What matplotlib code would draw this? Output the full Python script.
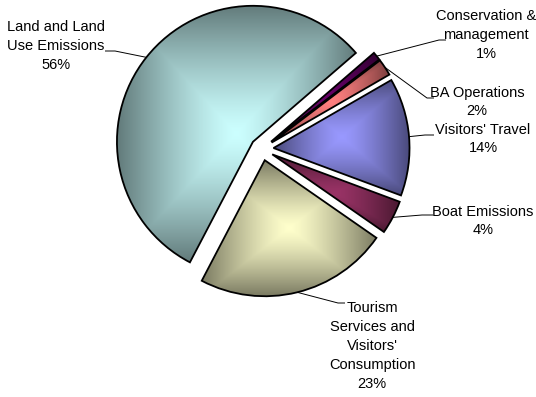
import numpy as np
import matplotlib
matplotlib.use("Agg")
import matplotlib.pyplot as plt
from matplotlib.colors import to_rgb

# Emission shares by source (percent), in clockwise order
categories = ["Conservation &\nmanagement", "BA Operations", "Visitors' Travel",
              "Boat Emissions", "Tourism\nServices and\nVisitors'\nConsumption",
              "Land and Land\nUse Emissions"]
shares = [1, 2, 14, 4, 23, 56]
pct_labels = ["1%", "2%", "14%", "4%", "23%", "56%"]

# Slice colours: centre tone of the gradient
centre_colors = ["#660066", "#FF8080", "#9999FF", "#993366", "#FFFFCC", "#CCFFFF"]
edge_darkening = 0.48

plt.rcParams["font.family"] = ["Liberation Sans Narrow", "Liberation Sans", "DejaVu Sans"]

W, H = 536, 397
fig = plt.figure(figsize=(W / 100, H / 100), dpi=100)
ax = fig.add_axes([0, 0, 1, 1])

# pixel layout of the pie: centre and radius
CX, CY, R = 262, 149, 136


def px(x, y):
    return (x - CX) / R, (CY - y) / R


wedges, _ = ax.pie(shares, startangle=40.8, counterclock=False,
                   explode=[0.085] * len(shares), radius=1.0,
                   wedgeprops=dict(linewidth=1.3, edgecolor="black"))

# rectangular "from centre" gradient fill for each slice
n = 300
u = np.linspace(-1, 1, n)
UU, VV = np.meshgrid(u, u)
T = (np.maximum(np.abs(UU), np.abs(VV)) ** 1.3)[..., None]
for w, c in zip(wedges, centre_colors):
    light = np.array(to_rgb(c))
    dark = light * edge_darkening
    img = light + (dark - light) * T
    ext = w.get_path().get_extents()
    im = ax.imshow(img, extent=[ext.x0, ext.x1, ext.y0, ext.y1], origin="lower",
                   interpolation="bilinear", zorder=2)
    im.set_clip_path(w)
    w.set_facecolor("none")
    w.set_zorder(3)

# label block centres, leader elbows and leader ends (pixels)
label_pos = [(486, 35), (477, 102), (483, 139), (483, 221), (372, 346), (56, 46)]
elbows = [(439, 40), (427, 98), (425, 135), (422, 215), (338, 303), (115, 51)]
ends = [(446, 40), (434, 98), (434, 135), (433, 215), (345, 303), (105, 51)]

for w, cat, pct, lp, el, en in zip(wedges, categories, pct_labels, label_pos, elbows, ends):
    mid = np.deg2rad((w.theta1 + w.theta2) / 2)
    ax0 = w.center[0] + w.r * np.cos(mid)
    ay0 = w.center[1] + w.r * np.sin(mid)
    ex, ey = px(*el)
    fx, fy = px(*en)
    ax.plot([ax0, ex, fx], [ay0, ey, fy], color="black", lw=0.7, zorder=4,
            solid_capstyle="butt")
    tx, ty = px(*lp)
    ax.text(tx, ty, cat + "\n" + pct, ha="center", va="center", fontsize=10.5,
            linespacing=1.44, color="black", zorder=5)

ax.set_xlim(-CX / R, (W - CX) / R)
ax.set_ylim(-(H - CY) / R, CY / R)
ax.set_aspect("equal")
ax.axis("off")

fig.savefig("out.png", dpi=100)
